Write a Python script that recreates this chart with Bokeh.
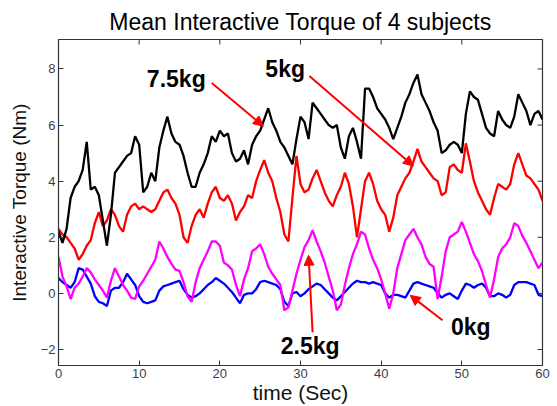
import numpy as np
from bokeh.plotting import figure
from bokeh.models import Range1d, FixedTicker, Label, Arrow, NormalHead
from bokeh.embed import file_html
from bokeh.resources import INLINE

# sample times (s)
time_s = np.arange(0, 60.01, 0.5)

torque_7_5kg = [
    2.2, 1.8, 2.3, 3.4, 3.8, 4.0, 4.4, 5.4, 3.7, 3.8,
    3.5, 2.6, 1.7, 2.8, 4.3, 4.5, 4.7, 4.9, 5.0, 5.6,
    5.3, 3.6, 3.8, 4.3, 4.0, 5.2, 5.8, 6.3, 5.7, 5.4,
    5.3, 4.9, 4.3, 3.8, 3.8, 4.3, 4.6, 5.0, 5.6, 5.4,
    5.8, 5.6, 5.7, 5.0, 4.7, 4.8, 5.1, 4.6, 5.3, 5.6,
    5.8, 6.2, 6.6, 6.1, 5.8, 5.4, 5.2, 4.9, 4.6, 5.5,
    6.3, 6.1, 5.5, 6.8, 6.6, 6.4, 6.2, 6.0, 5.9, 6.0,
    5.2, 4.8, 5.6, 5.9, 5.4, 4.8, 7.3, 7.3, 7.0, 6.6,
    6.4, 6.2, 5.9, 5.5, 5.9, 6.3, 6.8, 7.1, 7.5, 7.8,
    7.1, 6.8, 6.5, 6.1, 5.8, 5.0, 5.1, 5.3, 5.4, 5.3,
    5.0, 6.4, 7.2, 7.0, 6.9, 6.4, 5.9, 5.7, 5.6, 6.5,
    6.2, 6.0, 5.9, 6.3, 7.1, 6.8, 6.5, 6.0, 6.4, 6.5,
    6.2,
]

torque_5kg = [
    2.3, 2.1, 2.0, 1.8, 1.6, 1.2, 1.4, 1.7, 1.9, 2.5,
    2.9, 2.4, 2.6, 3.0, 2.8, 2.4, 2.2, 2.8, 3.1, 3.2,
    3.0, 3.1, 3.0, 2.9, 3.0, 3.3, 3.6, 3.7, 3.4, 3.2,
    2.8, 2.0, 1.8, 2.4, 2.8, 3.0, 2.7, 3.2, 3.6, 3.8,
    3.4, 3.3, 3.5, 3.2, 2.6, 2.9, 3.1, 3.5, 3.4, 4.0,
    4.4, 4.75, 4.3, 4.0, 3.4, 2.9, 2.1, 1.85, 3.4, 4.9,
    3.9, 3.6, 3.7, 4.1, 4.4, 4.0, 3.6, 3.3, 3.1, 3.5,
    3.8, 4.3, 3.9, 3.1, 2.0, 3.0, 4.0, 4.3, 3.9, 3.3,
    3.0, 2.8, 2.2, 2.7, 3.5, 3.8, 4.1, 4.3, 4.7, 5.15,
    4.7, 4.5, 4.3, 4.1, 4.0, 3.5, 3.6, 4.5, 4.6, 4.4,
    4.3, 5.35, 4.7, 4.0, 3.6, 3.3, 3.0, 2.8, 3.4, 3.9,
    3.8, 3.7, 3.9, 4.6, 5.0, 4.6, 4.2, 4.1, 3.9, 3.7,
    3.3,
]

torque_2_5kg = [
    1.3, 0.6, 0.25, -0.2, 0.2, 0.35, 0.6, 0.9, 0.75, 0.5,
    0.3, 0.1, -0.15, 0.45, 0.9, 0.6, 0.3, 0.1, -0.15, -0.2,
    0.25, 0.45, 0.7, 0.95, 1.2, 1.85, 1.6, 1.3, 1.05, 0.85,
    0.8, 0.4, -0.1, -0.3, 0.4, 0.9, 1.2, 1.5, 1.85, 1.85,
    1.7, 1.1, 1.0, 0.85, 0.3, -0.1, 0.5, 0.9, 1.5, 1.6,
    1.75, 1.4, 0.95, 0.7, 0.5, 0.3, -0.6, -0.5, 0.1, 0.7,
    1.2, 1.65, 1.9, 2.25, 1.85, 1.5, 1.1, 0.6, 0.1, -0.6,
    -0.4, 0.3, 0.9, 1.4, 1.75, 2.2, 2.1, 1.6, 1.2, 0.9,
    0.5, 0.0, -0.55, 0.0, 0.9, 1.4, 1.9, 2.1, 2.3, 2.0,
    1.75, 1.3, 1.05, 0.95, -0.2, 0.6, 1.5, 2.0, 2.1, 2.2,
    2.55, 2.2, 1.8, 1.4, 1.15, 0.8, 0.3, -0.15, 0.5, 1.3,
    1.6, 1.75, 2.0, 2.5, 2.4, 2.05, 1.8, 1.5, 1.2, 0.9,
    1.1,
]

torque_0kg = [
    0.55, 0.4, 0.3, 0.2, 0.4, 0.9, 0.85, 0.6, 0.35, -0.1,
    -0.3, -0.35, -0.45, 0.1, 0.2, 0.2, 0.4, 0.7, 0.5, 0.3,
    -0.1, -0.3, -0.35, -0.3, -0.25, 0.1, 0.25, 0.3, 0.35, 0.4,
    0.45, 0.15, -0.05, -0.15, -0.1, 0.0, 0.15, 0.3, 0.4, 0.55,
    0.45, 0.35, 0.2, 0.05, -0.15, -0.35, -0.05, 0.0, 0.0, 0.15,
    0.4, 0.45, 0.4, 0.35, 0.3, 0.15, -0.3, -0.45, 0.0, 0.05,
    -0.1, 0.0, 0.15, 0.25, 0.35, 0.3, 0.15, 0.0, -0.15, -0.25,
    -0.1, 0.05, 0.2, 0.35, 0.45, 0.4, 0.4, 0.35, 0.4, 0.35,
    0.3, 0.0, -0.15, -0.05, -0.05, -0.1, -0.15, 0.1, 0.35, 0.4,
    0.35, 0.3, 0.25, 0.2, 0.0, -0.15, -0.05, 0.0, -0.1, -0.2,
    0.1, 0.35, 0.3, 0.2, 0.3, 0.35, 0.2, -0.1, -0.1, 0.0,
    -0.05, -0.15, -0.05, 0.3, 0.4, 0.4, 0.4, 0.35, 0.3, -0.05,
    -0.1,
]

x_ticks = [0, 10, 20, 30, 40, 50, 60]
y_ticks = [-2, 0, 2, 4, 6, 8]
X_MIN, X_MAX = 0, 60
Y_MIN, Y_MAX = -2.57, 9.05

FONT = "Liberation Sans"
TICK_COLOR = "#3c3c4c"
EDGE = "#333333"

p = figure(
    width=557, height=406,
    min_border_left=58, min_border_top=39, min_border_right=15, min_border_bottom=41,
    x_range=Range1d(X_MIN, X_MAX), y_range=Range1d(Y_MIN, Y_MAX),
    output_backend="svg", toolbar_location=None,
    title="Mean Interactive Torque of 4 subjects",
)
p.title.text_font = FONT
p.title.text_font_size = "23px"
p.title.text_font_style = "normal"
p.title.text_color = "black"
p.title.align = "center"
p.title.offset = -8
p.title.standoff = 10

p.xgrid.visible = False
p.ygrid.visible = False
p.outline_line_color = EDGE
p.outline_line_width = 1.2
p.background_fill_color = "white"
p.border_fill_color = "white"

for ax in (p.xaxis[0], p.yaxis[0]):
    ax.major_label_text_font = FONT
    ax.major_label_text_font_size = "13px"
    ax.major_label_text_color = TICK_COLOR
    ax.major_tick_in = 5
    ax.major_tick_out = 0
    ax.minor_tick_line_color = None
    ax.axis_line_color = EDGE
    ax.major_tick_line_color = EDGE
    ax.axis_label_text_font = FONT
    ax.axis_label_text_font_style = "normal"
    ax.axis_label_text_color = "#111111"

p.xaxis[0].ticker = FixedTicker(ticks=x_ticks)
p.yaxis[0].ticker = FixedTicker(ticks=y_ticks)
p.xaxis[0].axis_label = "time (Sec)"
p.yaxis[0].axis_label = "Interactive Torque (Nm)"
p.xaxis[0].axis_label_text_font_size = "21px"
p.yaxis[0].axis_label_text_font_size = "19px"
p.xaxis[0].major_label_standoff = 3
p.yaxis[0].major_label_standoff = 3
p.xaxis[0].axis_label_standoff = 0
p.yaxis[0].axis_label_standoff = 8

# box tick marks on the top and right edges (half of each dash is clipped by the frame)
p.scatter(x_ticks, [Y_MAX] * len(x_ticks), marker="dash", size=10, angle=np.pi / 2,
          line_color=EDGE, line_width=1)
p.scatter([X_MAX] * len(y_ticks), y_ticks, marker="dash", size=10,
          line_color=EDGE, line_width=1)

p.line(time_s, torque_0kg, line_color="#0000ff", line_width=2.3)
p.line(time_s, torque_2_5kg, line_color="#ff00ff", line_width=2.3)
p.line(time_s, torque_5kg, line_color="#ff0000", line_width=2.3)
p.line(time_s, torque_7_5kg, line_color="#000000", line_width=2.3)

annotations = [
    ("7.5kg", 14.6, 7.64, 19.0, 7.5, 25.4, 5.96),
    ("5kg", 28.1, 8.0, 31.1, 7.75, 44.0, 4.54),
    ("2.5kg", 31.2, -1.86, 31.5, -1.39, 31.0, 1.36),
    ("0kg", 51.1, -1.18, 47.6, -0.96, 43.6, -0.07),
]
for txt, tx, ty, xs, ys, xe, ye in annotations:
    p.add_layout(Arrow(end=NormalHead(size=10, fill_color="red", line_color="red"),
                       x_start=xs, y_start=ys, x_end=xe, y_end=ye,
                       line_color="red", line_width=2))
    p.add_layout(Label(x=tx, y=ty, text=txt, text_font=FONT, text_font_size="23px",
                       text_font_style="bold", text_align="center", text_baseline="middle",
                       text_color="black"))

open("out.html", "w").write(file_html(p, INLINE))
